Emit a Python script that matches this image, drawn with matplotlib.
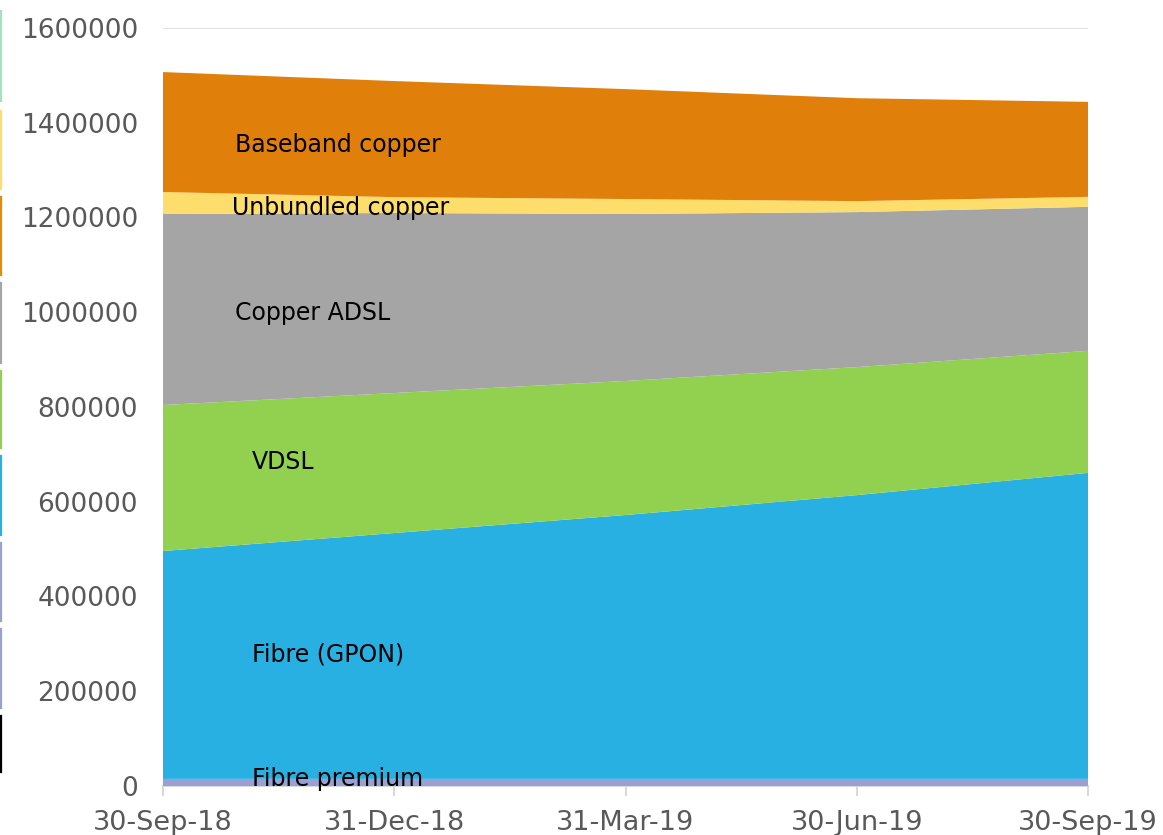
import matplotlib
matplotlib.use("Agg")
import matplotlib.pyplot as plt
from matplotlib.lines import Line2D
import numpy as np

dates = ["30-Sep-18", "31-Dec-18", "31-Mar-19", "30-Jun-19", "30-Sep-19"]

fibre_premium = [15000, 15000, 15000, 15000, 15000]
fibre_gpon = [481000, 519000, 557000, 599000, 646000]
vdsl = [308200, 295500, 282900, 270200, 257500]
copper_adsl = [403200, 380000, 352500, 327200, 304000]
unbundled_copper = [46400, 33500, 31600, 23200, 21100]
baseband_copper = [253200, 245000, 232000, 217200, 200500]

series_names = ["Fibre premium", "Fibre (GPON)", "VDSL", "Copper ADSL",
                "Unbundled copper", "Baseband copper"]
colors = ["#9aa0d2", "#29b0e2", "#92d050", "#a5a5a5", "#fddd6b", "#e07f0a"]

# label positions (category x, value y)
label_pos = [(0.385, 14800), (0.385, 278600), (0.385, 683900),
             (0.311, 998400), (0.30, 1220000), (0.311, 1353000)]

fig = plt.figure(figsize=(11.63, 8.35), dpi=100)
ax = fig.add_axes([163 / 1163, 1 - 786 / 835, 925 / 1163, 758 / 835])

x = np.arange(len(dates))
ax.stackplot(x, fibre_premium, fibre_gpon, vdsl, copper_adsl,
             unbundled_copper, baseband_copper, colors=colors, zorder=2)

for name, (lx, ly) in zip(series_names, label_pos):
    ax.text(lx, ly, name, fontsize=17, color="black", va="center",
            ha="left", zorder=5)

ax.set_xlim(0, len(dates) - 1)
ax.set_ylim(0, 1600000)
ax.set_yticks(np.arange(0, 1600001, 200000))
ax.set_yticklabels([str(v) for v in range(0, 1600001, 200000)])
ax.set_xticks(x)
ax.set_xticklabels(dates)
ax.yaxis.grid(True, color="#d9d9d9", linewidth=1.2, zorder=0)
ax.set_axisbelow(True)

for s in ["top", "right", "left"]:
    ax.spines[s].set_visible(False)
ax.spines["bottom"].set_color("#d9d9d9")
ax.spines["bottom"].set_linewidth(1.5)
ax.spines["bottom"].set_zorder(1)

ax.tick_params(axis="y", length=0, pad=18, labelsize=19, labelcolor="#595959")
ax.tick_params(axis="x", length=7, width=1.5, color="#d9d9d9", pad=10,
               labelsize=19.5, labelcolor="#595959")

# leftover coloured strips at the left edge
strips = [(11, 101, "#a8dfc0"), (111, 189, "#fddd6b"), (197, 275, "#e88a00"),
          (283, 363, "#a5a5a5"), (371, 448, "#92d050"), (456, 535, "#29b0e2"),
          (543, 621, "#9aa0d2"), (629, 708, "#9aa0d2"), (716, 772, "#000000")]
for y0, y1, c in strips:
    fig.add_artist(Line2D([1 / 1163, 1 / 1163], [1 - y0 / 835, 1 - y1 / 835],
                          color=c, linewidth=1.6, transform=fig.transFigure))

fig.savefig("out.png", dpi=100)
